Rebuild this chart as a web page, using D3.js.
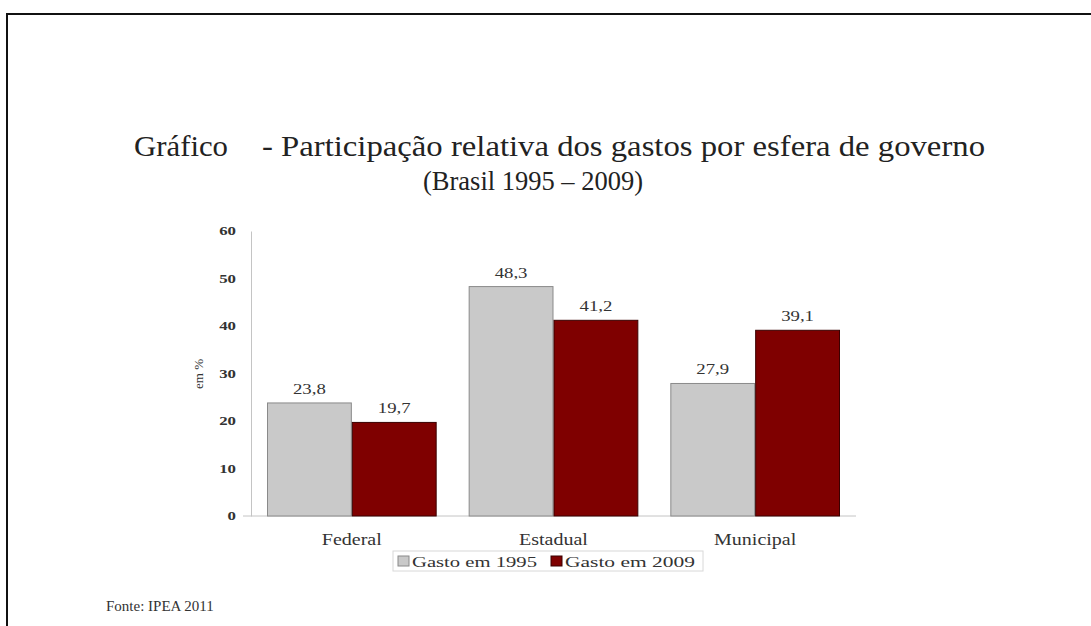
<!DOCTYPE html>
<html><head><meta charset="utf-8">
<script src="https://cdn.jsdelivr.net/npm/d3@7"></script>
<style>body{margin:0;background:#fff}svg{display:block}text{font-family:"Liberation Serif","DejaVu Serif",serif}</style>
</head><body><svg id="c" width="1091" height="626"></svg>
<script>
const categories = ["Federal", "Estadual", "Municipal"];
const seriesNames = ["Gasto em 1995", "Gasto em 2009"];
const values1995 = [23.8, 48.3, 27.9];
const values2009 = [19.7, 41.2, 39.1];
const valueLabels1995 = ["23,8", "48,3", "27,9"];
const valueLabels2009 = ["19,7", "41,2", "39,1"];
const yTicks = [0, 10, 20, 30, 40, 50, 60];
const colors = ["#c9c9c9", "#7f0000"];
const strokes = ["#8a8a8a", "#3a0000"];

const svg = d3.select("#c");
function stretch(sel, f){
  sel.each(function(){
    const w = this.getComputedTextLength();
    d3.select(this).attr("textLength", w*f).attr("lengthAdjust","spacingAndGlyphs");
  });
}
function fitTo(sel, w){ sel.attr("textLength", w).attr("lengthAdjust","spacingAndGlyphs"); }

// page frame
svg.append("line").attr("x1",6).attr("x2",1091).attr("y1",14).attr("y2",14).attr("stroke","#111").attr("stroke-width",2);
svg.append("line").attr("x1",7).attr("x2",7).attr("y1",13).attr("y2",626).attr("stroke","#111").attr("stroke-width",2);

// title
fitTo(svg.append("text").attr("x",134).attr("y",156).attr("font-size",29).attr("fill","#222").text("Gráfico"), 94);
fitTo(svg.append("text").attr("x",262).attr("y",156).attr("font-size",29).attr("fill","#222")
  .text("- Participação relativa dos gastos por esfera de governo"), 723);
fitTo(svg.append("text").attr("x",423).attr("y",190).attr("font-size",28).attr("fill","#222")
  .text("(Brasil 1995 – 2009)"), 220);

const y = d3.scaleLinear().domain([0,60]).range([516,231]);
const x0 = d3.scaleBand().domain(categories).range([251,856]).padding(0);
const x1 = d3.scaleBand().domain(seriesNames).range([16, x0.bandwidth()-16]).padding(0);

// y axis
const yAxis = d3.axisLeft(y).tickValues(yTicks).tickSize(0).tickPadding(15).tickFormat(d3.format("d"));
const ga = svg.append("g").attr("transform","translate(251,0)").call(yAxis);
ga.select(".domain").attr("stroke","#c4c4c4");
ga.selectAll("text").attr("font-size",12).attr("font-weight","bold").attr("fill","#333").attr("font-family","Liberation Serif, serif");
stretch(ga.selectAll("text"), 1.4);
// baseline
svg.append("line").attr("x1",243).attr("x2",856).attr("y1",y(0)).attr("y2",y(0)).attr("stroke","#c4c4c4");

svg.append("text").attr("transform","translate(203,374) rotate(-90)").attr("text-anchor","middle")
  .attr("font-size",13).attr("fill","#333").text("em %");

const data = categories.map((c,i)=>({cat:c, vals:[
  {s:seriesNames[0], v:values1995[i], lab:valueLabels1995[i], k:0},
  {s:seriesNames[1], v:values2009[i], lab:valueLabels2009[i], k:1}]}));

const g = svg.selectAll("g.grp").data(data).join("g").attr("class","grp")
  .attr("transform",d=>`translate(${x0(d.cat)},0)`);
g.selectAll("rect").data(d=>d.vals).join("rect")
  .attr("x",d=>x1(d.s)+0.5).attr("width",x1.bandwidth()-1)
  .attr("y",d=>y(d.v)).attr("height",d=>y(0)-y(d.v))
  .attr("fill",d=>colors[d.k]).attr("stroke",d=>strokes[d.k]).attr("stroke-width",1);
const vl = g.selectAll("text.val").data(d=>d.vals).join("text").attr("class","val")
  .attr("x",d=>x1(d.s)+x1.bandwidth()/2).attr("y",d=>y(d.v)-9)
  .attr("text-anchor","middle").attr("font-size",15).attr("fill","#333").text(d=>d.lab);
stretch(vl, 1.25);

// category labels
const cl = svg.selectAll("text.cat").data(categories).join("text").attr("class","cat")
  .attr("x",d=>x0(d)+x0.bandwidth()/2).attr("y",545).attr("text-anchor","middle")
  .attr("font-size",16).attr("fill","#333").text(d=>d);
stretch(cl, 1.25);

// legend
const lg = svg.append("g");
lg.append("rect").attr("x",393).attr("y",551).attr("width",310).attr("height",20).attr("fill","#fff").attr("stroke","#d8d8d8");
const items = [{n:seriesNames[0],x:398,k:0,w:125},{n:seriesNames[1],x:551,k:1,w:130}];
items.forEach(it=>{
  lg.append("rect").attr("x",it.x).attr("y",556).attr("width",11).attr("height",10)
    .attr("fill",colors[it.k]).attr("stroke",strokes[it.k]);
  fitTo(lg.append("text").attr("x",it.x+14).attr("y",567).attr("font-size",15).attr("fill","#333").text(it.n), it.w);
});

svg.append("text").attr("x",106).attr("y",611).attr("font-size",15).attr("fill","#333").text("Fonte: IPEA 2011");
</script></body></html>
